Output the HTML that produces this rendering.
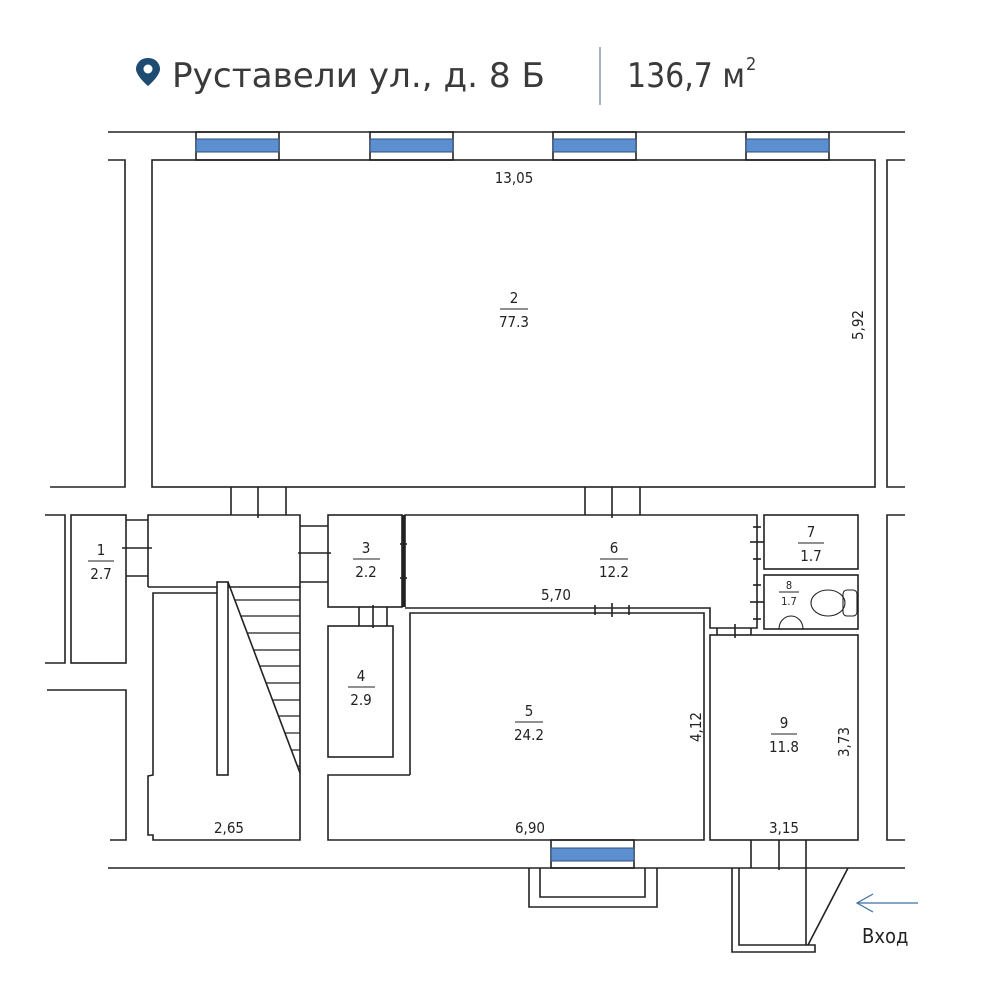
<!DOCTYPE html>
<html><head><meta charset="utf-8"><style>
html,body{margin:0;padding:0;background:#fff;}
svg{display:block;}
text{font-family:"DejaVu Sans Condensed","Liberation Sans",sans-serif;fill:#222;}
</style></head><body>
<svg width="1000" height="1000" viewBox="0 0 1000 1000" xmlns="http://www.w3.org/2000/svg">
<g fill="none" stroke="#222" stroke-width="1.6">
<line x1="600" y1="47" x2="600" y2="105" stroke="#6a7f94" stroke-width="1.2"/>
<line x1="108" y1="132" x2="905" y2="132"/>
<polyline points="108,160 125,160 125,487 50,487"/>
<rect x="152" y="160" width="723" height="327"/>
<polyline points="905,160 887,160 887,487 905,487"/>
<g>
<rect x="196" y="132" width="83" height="28"/><rect x="370" y="132" width="83" height="28"/>
<rect x="553" y="132" width="83" height="28"/><rect x="746" y="132" width="83" height="28"/>
</g>
<line x1="231" y1="487" x2="231" y2="515"/><line x1="286" y1="487" x2="286" y2="515"/><line x1="258" y1="487" x2="258" y2="518"/>
<line x1="585" y1="487" x2="585" y2="515"/><line x1="640" y1="487" x2="640" y2="515"/><line x1="612" y1="487" x2="612" y2="518"/>
<polyline points="45,515 65,515 65,663 45,663"/>
<rect x="71" y="515" width="55" height="148"/>
<polyline points="47,690 126,690 126,840 110,840"/>
<line x1="126" y1="520" x2="148" y2="520"/><line x1="126" y1="576" x2="148" y2="576"/><line x1="122" y1="548" x2="152" y2="548"/>
<polyline points="148,587 148,515 300,515 300,587 228,587"/>
<line x1="148" y1="587" x2="217" y2="587"/>
<polyline points="217,593 153,593 153,775 148,776 148,835 153,835 153,840 300,840 300,587"/>
<rect x="217" y="582" width="11" height="193"/>
<line x1="228" y1="582" x2="300" y2="773"/>
<g stroke-width="1.2">
<line x1="235" y1="600" x2="300" y2="600"/><line x1="241" y1="616" x2="300" y2="616"/>
<line x1="247" y1="633" x2="300" y2="633"/><line x1="254" y1="650" x2="300" y2="650"/>
<line x1="260" y1="666" x2="300" y2="666"/><line x1="266" y1="683" x2="300" y2="683"/>
<line x1="273" y1="700" x2="300" y2="700"/><line x1="279" y1="716" x2="300" y2="716"/>
<line x1="285" y1="733" x2="300" y2="733"/><line x1="292" y1="750" x2="300" y2="750"/>
<line x1="298" y1="766" x2="300" y2="766"/>
</g>
<line x1="300" y1="526" x2="328" y2="526"/><line x1="300" y1="582" x2="328" y2="582"/><line x1="298" y1="553" x2="331" y2="553"/>
<rect x="328" y="515" width="74" height="92"/>
<line x1="404" y1="515" x2="404" y2="607" stroke-width="3"/>
<line x1="400" y1="544" x2="407" y2="544"/><line x1="400" y1="578" x2="407" y2="578"/>
<rect x="328" y="626" width="65" height="131"/>
<line x1="359" y1="607" x2="359" y2="626"/><line x1="387" y1="607" x2="387" y2="626"/><line x1="373" y1="605" x2="373" y2="628"/>
<polyline points="405,607 405,515 757,515 757,628 710,628 710,608 405,608"/>
<line x1="753" y1="527" x2="761" y2="527"/><line x1="750" y1="542" x2="764" y2="542"/><line x1="753" y1="559" x2="761" y2="559"/>
<line x1="753" y1="585" x2="761" y2="585"/><line x1="750" y1="602" x2="764" y2="602"/><line x1="753" y1="619" x2="761" y2="619"/>
<line x1="595" y1="605" x2="595" y2="615"/><line x1="612" y1="603" x2="612" y2="617"/><line x1="629" y1="605" x2="629" y2="615"/>
<line x1="717" y1="628" x2="717" y2="635"/><line x1="735" y1="624" x2="735" y2="638"/><line x1="751" y1="628" x2="751" y2="635"/>
<polyline points="410,775 410,613 704,613 704,840 328,840 328,775 410,775"/>
<rect x="764" y="515" width="94" height="54"/>
<rect x="764" y="575" width="94" height="54"/>
<rect x="710" y="635" width="148" height="205"/>
<polyline points="905,515 887,515 887,840 905,840"/>
<g stroke-width="1.1">
<ellipse cx="828" cy="603" rx="17" ry="13"/>
<rect x="843" y="590" width="14" height="26" rx="4"/>
<path d="M779,629 A12,13 0 0 1 803,629"/>
<line x1="779" y1="629" x2="803" y2="629"/>
</g>
<line x1="108" y1="868" x2="905" y2="868"/>
<rect x="551" y="840" width="83" height="28"/>
<polyline points="529,868 529,907 657,907 657,868"/>
<polyline points="540,868 540,897 645,897 645,868"/>
<line x1="751" y1="840" x2="751" y2="868"/><line x1="806" y1="840" x2="806" y2="945"/><line x1="779" y1="840" x2="779" y2="870"/>
<polyline points="732,868 732,952 815,952 815,945 739,945 739,868"/>
<line x1="848" y1="868" x2="808" y2="945"/>
<g stroke="#3a6fa8" stroke-width="1.2">
<line x1="857" y1="903" x2="918" y2="903"/>
<polyline points="873,894 857,903 873,912"/>
</g>
</g>
<g fill="#5b8fcf" stroke="#2c4e7a" stroke-width="1">
<rect x="196" y="139" width="83" height="13"/><rect x="370" y="139" width="83" height="13"/>
<rect x="553" y="139" width="83" height="13"/><rect x="746" y="139" width="83" height="13"/>
<rect x="551" y="848" width="83" height="13"/>
</g>
<path d="M148,58 C140,58 136,64 136,69 C136,76 148,86 148,86 C148,86 160,76 160,69 C160,64 156,58 148,58 Z" fill="#1d4b72"/>
<circle cx="148" cy="69" r="4.5" fill="#fff"/>
<text x="172" y="87" font-size="34" textLength="373" lengthAdjust="spacingAndGlyphs" style="fill:#3a3a3a">Руставели ул., д. 8 Б</text>
<text x="627" y="87" font-size="34" textLength="118" lengthAdjust="spacingAndGlyphs" style="fill:#3a3a3a">136,7 м</text>
<text x="746" y="70" font-size="18" style="fill:#3a3a3a">2</text>
<g font-size="15" text-anchor="middle">
<text x="514" y="183">13,05</text>
<text x="514" y="303">2</text><line x1="500" y1="309" x2="528" y2="309" stroke="#222"/><text x="514" y="327">77.3</text>
<text x="863" y="325" transform="rotate(-90 863 325)">5,92</text>
<text x="101" y="555">1</text><line x1="88" y1="561" x2="114" y2="561" stroke="#222"/><text x="101" y="579">2.7</text>
<text x="366" y="553">3</text><line x1="353" y1="559" x2="380" y2="559" stroke="#222"/><text x="366" y="577">2.2</text>
<text x="361" y="681">4</text><line x1="348" y1="687" x2="375" y2="687" stroke="#222"/><text x="361" y="705">2.9</text>
<text x="614" y="553">6</text><line x1="600" y1="559" x2="628" y2="559" stroke="#222"/><text x="614" y="577">12.2</text>
<text x="556" y="600">5,70</text>
<text x="529" y="716">5</text><line x1="515" y1="722" x2="543" y2="722" stroke="#222"/><text x="529" y="740">24.2</text>
<text x="701" y="727" transform="rotate(-90 701 727)">4,12</text>
<text x="811" y="537">7</text><line x1="798" y1="543" x2="824" y2="543" stroke="#222"/><text x="811" y="561">1.7</text>
<text x="789" y="589" font-size="11">8</text><line x1="779" y1="592" x2="799" y2="592" stroke="#222"/><text x="789" y="605" font-size="11">1.7</text>
<text x="784" y="728">9</text><line x1="771" y1="734" x2="797" y2="734" stroke="#222"/><text x="784" y="752">11.8</text>
<text x="849" y="742" transform="rotate(-90 849 742)">3,73</text>
<text x="229" y="833">2,65</text>
<text x="530" y="833">6,90</text>
<text x="784" y="833">3,15</text>
</g>
<text x="862" y="943" font-size="20" style="fill:#222">Вход</text>
</svg>
</body></html>
